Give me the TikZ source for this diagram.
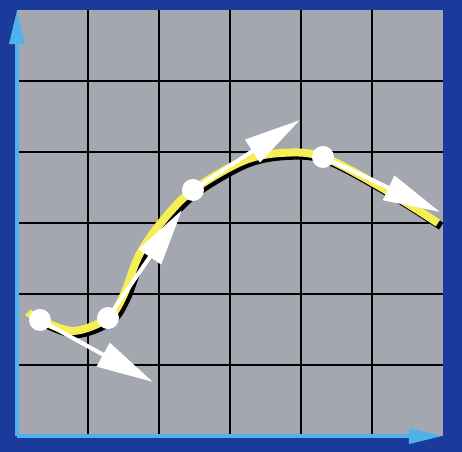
\documentclass[tikz,border=0pt]{standalone}
\usepackage{xcolor}
\usepackage{tikz}
\usetikzlibrary{arrows.meta}
\definecolor{frameblue}{HTML}{1A3A9C}
\definecolor{plotgray}{HTML}{A4A6B0}
\definecolor{axisblue}{HTML}{4FB3EA}
\definecolor{curveyellow}{HTML}{F5EE55}
\begin{document}
\begin{tikzpicture}[
    grid line/.style={draw=black, line width=0.8pt},
    axis/.style={draw=axisblue, line width=1.6pt, -{Triangle[length=4.8mm, width=2.1mm]}, axisblue},
    curve shadow/.style={draw=black, line width=3.2pt},
    curve/.style={draw=curveyellow, line width=3.2pt},
    tangent/.style={draw=white, line width=1.6pt, -{Triangle[length=8mm, width=3.7mm]}, white},
    dot/.style={circle, fill=white, minimum size=3.1mm, inner sep=0pt},
]

\fill[frameblue] (-0.239,-0.225) rectangle (6.268,6.141);
\useasboundingbox (-0.239,-0.225) rectangle (6.268,6.141);
\fill[plotgray] (0,0) rectangle (6,6);
\foreach \k in {1,...,5} {
    \draw[grid line] (\k,0) -- (\k,6);
    \draw[grid line] (0,\k) -- (6,\k);
}

\coordinate (O) at (0,0);
\coordinate (xend) at (6,0);
\coordinate (yend) at (0,6);
\draw[axis] (O) -- (xend);
\draw[axis] (O) -- (yend);

\coordinate (p1) at (0.324,1.634);
\coordinate (p2) at (1.282,1.662);
\coordinate (p3) at (2.479,3.465);
\coordinate (p4) at (4.310,3.930);

\def\curvepts{(0.155,1.746) (0.324,1.634) (0.80,1.48) (1.282,1.662)
    (1.50,1.98) (1.72,2.55) (2.05,3.03) (2.479,3.465) (3.20,3.88) (3.78,3.99)
    (4.31,3.93) (5.10,3.52) (5.93,3.0)}
\draw[curve shadow, shift={(0.045,-0.045)}] plot[smooth, tension=0.55] coordinates {\curvepts};
\draw[curve] plot[smooth, tension=0.55] coordinates {\curvepts};

\coordinate (t1) at (1.915,0.761);
\coordinate (t2) at (2.324,3.183);
\coordinate (t3) at (3.986,4.451);
\coordinate (t4) at (5.958,3.155);
\draw[tangent] (p1) -- (t1);
\draw[tangent] (p2) -- (t2);
\draw[tangent] (p3) -- (t3);
\draw[tangent] (p4) -- (t4);

\node[dot] (d1) at (p1) {};
\node[dot] (d2) at (p2) {};
\node[dot] (d3) at (p3) {};
\node[dot] (d4) at (p4) {};

\end{tikzpicture}
\end{document}
